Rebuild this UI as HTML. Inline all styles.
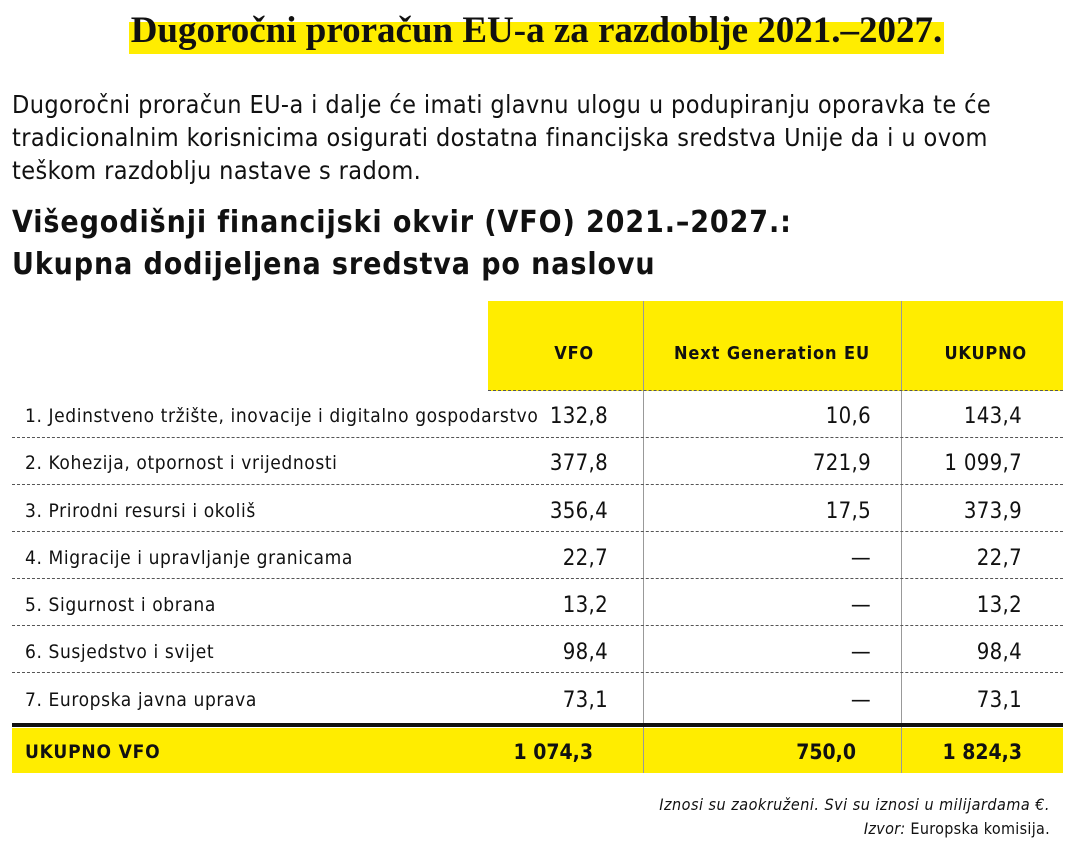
<!DOCTYPE html>
<html><head><meta charset="utf-8"><style>
body{margin:0;width:1073px;height:866px;background:#fff;position:relative;overflow:hidden;font-family:"DejaVu Sans Condensed","Liberation Sans",sans-serif;color:#111}
.a{position:absolute;white-space:nowrap;line-height:1}
.r{text-align:right}
.dash{position:absolute;left:12px;width:1051px;border-top:1.5px dashed #555;height:0}
.v{position:absolute;width:1px;background:#999;top:301px;height:472px}
</style></head><body>
<div class="a" style="left:129px;top:22px;width:815px;height:32px;background:#ffed00"></div>
<div class="a" style="left:0;width:1073px;text-align:center;top:9px;font:bold 37px 'Liberation Serif',serif;letter-spacing:0px">Dugoročni proračun EU-a za razdoblje 2021.–2027.</div>
<div class="a" style="left:12px;top:88px;font-size:25px;line-height:33px;white-space:normal;width:1060px;letter-spacing:0.4px">Dugoročni proračun EU-a i dalje će imati glavnu ulogu u podupiranju oporavka te će<br>tradicionalnim korisnicima osigurati dostatna financijska sredstva Unije da i u ovom<br>teškom razdoblju nastave s radom.</div>
<div class="a" style="left:12px;top:202px;font-weight:bold;font-size:30px;line-height:42px;letter-spacing:0.9px">Višegodišnji financijski okvir (VFO) 2021.–2027.:<br>Ukupna dodijeljena sredstva po naslovu</div>
<div class="a" style="left:488px;top:301px;width:575px;height:90px;background:#ffed00"></div>
<div class="a" style="left:12px;top:728px;width:1051px;height:45px;background:#ffed00"></div>
<div class="v" style="left:643px"></div><div class="v" style="left:901px"></div>
<div class="a" style="left:12px;top:723px;width:1051px;height:4px;background:#111"></div>
<div class="a r" style="left:494px;width:100px;top:345px;font-weight:bold;font-size:18px;letter-spacing:0.8px">VFO</div>
<div class="a" style="left:643px;width:258px;text-align:center;top:345px;font-weight:bold;font-size:18px;letter-spacing:0.9px">Next Generation EU</div>
<div class="a r" style="left:900px;width:127px;top:345px;font-weight:bold;font-size:18px;letter-spacing:0.8px">UKUPNO</div>
<div class="dash" style="top:390px;left:488px;width:575px"></div>
<div class="dash" style="top:437px"></div><div class="dash" style="top:484px"></div><div class="dash" style="top:531px"></div><div class="dash" style="top:578px"></div><div class="dash" style="top:625px"></div><div class="dash" style="top:672px"></div>
<div style="position:absolute;left:0;top:0;font-size:19px;letter-spacing:0.6px">
<div class="a" style="left:25px;top:407px">1. Jedinstveno tržište, inovacije i digitalno gospodarstvo</div>
<div class="a" style="left:25px;top:454px">2. Kohezija, otpornost i vrijednosti</div>
<div class="a" style="left:25px;top:502px">3. Prirodni resursi i okoliš</div>
<div class="a" style="left:25px;top:549px">4. Migracije i upravljanje granicama</div>
<div class="a" style="left:25px;top:596px">5. Sigurnost i obrana</div>
<div class="a" style="left:25px;top:643px">6. Susjedstvo i svijet</div>
<div class="a" style="left:25px;top:691px">7. Europska javna uprava</div>
</div>
<div style="position:absolute;left:0;top:0;font-size:22px;letter-spacing:0.3px">
<div class="a r" style="left:508px;width:100px;top:406px">132,8</div><div class="a r" style="left:771px;width:100px;top:406px">10,6</div><div class="a r" style="left:902px;width:120px;top:406px">143,4</div>
<div class="a r" style="left:508px;width:100px;top:453px">377,8</div><div class="a r" style="left:771px;width:100px;top:453px">721,9</div><div class="a r" style="left:902px;width:120px;top:453px">1 099,7</div>
<div class="a r" style="left:508px;width:100px;top:501px">356,4</div><div class="a r" style="left:771px;width:100px;top:501px">17,5</div><div class="a r" style="left:902px;width:120px;top:501px">373,9</div>
<div class="a r" style="left:508px;width:100px;top:548px">22,7</div><div class="a r" style="left:771px;width:100px;top:548px">—</div><div class="a r" style="left:902px;width:120px;top:548px">22,7</div>
<div class="a r" style="left:508px;width:100px;top:595px">13,2</div><div class="a r" style="left:771px;width:100px;top:595px">—</div><div class="a r" style="left:902px;width:120px;top:595px">13,2</div>
<div class="a r" style="left:508px;width:100px;top:642px">98,4</div><div class="a r" style="left:771px;width:100px;top:642px">—</div><div class="a r" style="left:902px;width:120px;top:642px">98,4</div>
<div class="a r" style="left:508px;width:100px;top:690px">73,1</div><div class="a r" style="left:771px;width:100px;top:690px">—</div><div class="a r" style="left:902px;width:120px;top:690px">73,1</div>
</div>
<div class="a" style="left:25px;top:743px;font-weight:bold;font-size:19px;letter-spacing:0.8px">UKUPNO VFO</div>
<div class="a r" style="left:443px;width:150px;top:742px;font-weight:bold;font-size:21px">1 074,3</div>
<div class="a r" style="left:706px;width:150px;top:742px;font-weight:bold;font-size:21px">750,0</div>
<div class="a r" style="left:872px;width:150px;top:742px;font-weight:bold;font-size:21px">1 824,3</div>
<div class="a r" style="left:500px;width:550px;top:797px;font-size:16px;font-style:italic;letter-spacing:0.5px">Iznosi su zaokruženi. Svi su iznosi u milijardama €.</div>
<div class="a r" style="left:500px;width:550px;top:821px;font-size:16px;letter-spacing:0.3px"><i>Izvor:</i> Europska komisija.</div>
</body></html>
